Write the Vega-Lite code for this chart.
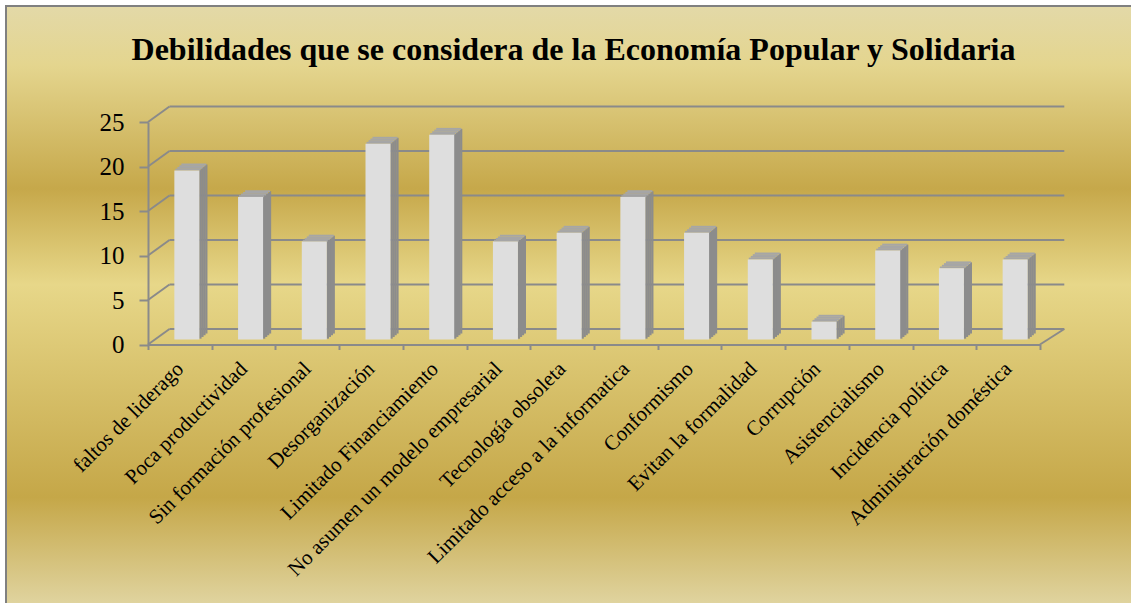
{
  "$schema": "https://vega.github.io/schema/vega-lite/v6.json",
  "width": 1127,
  "height": 599,
  "autosize": "none",
  "padding": {"left": 6, "top": 6, "right": 0, "bottom": 0},
  "background": "white",
  "title": {
    "text": "Debilidades que se considera de la Economía Popular y Solidaria",
    "font": "Liberation Serif",
    "fontSize": 32,
    "fontWeight": "bold",
    "color": "black",
    "anchor": "middle",
    "frame": "group",
    "baseline": "alphabetic",
    "offset": -86,
    "dx": 4
  },
  "config": {
    "view": {
      "fill": {
        "gradient": "linear",
        "x1": 0, "y1": 0, "x2": 0, "y2": 1,
        "stops": [
          {"offset": 0, "color": "#e3d9a8"},
          {"offset": 0.1, "color": "#e4d58e"},
          {"offset": 0.305, "color": "#c6a84a"},
          {"offset": 0.465, "color": "#e7d789"},
          {"offset": 0.82, "color": "#c5a748"},
          {"offset": 1, "color": "#e0d4a0"}
        ]
      },
      "stroke": "#808080",
      "strokeWidth": 2
    },
    "axis": {
      "domainColor": "#8a8a8a",
      "domainWidth": 2,
      "tickColor": "#8a8a8a",
      "tickWidth": 2,
      "labelFont": "Liberation Serif",
      "labelColor": "black",
      "grid": false
    }
  },
  "datasets": {
    "bars": [
      {"categoria": "faltos de liderago", "valor": 19},
      {"categoria": "Poca productividad", "valor": 16},
      {"categoria": "Sin formación profesional", "valor": 11},
      {"categoria": "Desorganización", "valor": 22},
      {"categoria": "Limitado Financiamiento", "valor": 23},
      {"categoria": "No asumen un modelo empresarial", "valor": 11},
      {"categoria": "Tecnología obsoleta", "valor": 12},
      {"categoria": "Limitado acceso a la informatica", "valor": 16},
      {"categoria": "Conformismo", "valor": 12},
      {"categoria": "Evitan la formalidad", "valor": 9},
      {"categoria": "Corrupción", "valor": 2},
      {"categoria": "Asistencialismo", "valor": 10},
      {"categoria": "Incidencia política", "valor": 8},
      {"categoria": "Administración doméstica", "valor": 9}
    ],
    "grid": [{"v": 0}, {"v": 5}, {"v": 10}, {"v": 15}, {"v": 20}, {"v": 25}]
  },
  "layer": [
    {
      "data": {"name": "grid"},
      "mark": {"type": "rule", "color": "#8a8a8a", "strokeWidth": 2, "xOffset": -10.36, "x2Offset": 56.16, "yOffset": -15.5},
      "encoding": {
        "x": {"datum": "faltos de liderago", "type": "nominal"},
        "x2": {"datum": "Administración doméstica"},
        "y": {"field": "v", "type": "quantitative"}
      }
    },
    {
      "data": {"name": "grid"},
      "mark": {"type": "rule", "color": "#8a8a8a", "strokeWidth": 2, "xOffset": -31.86, "x2Offset": -10.36, "y2Offset": -15.5},
      "encoding": {
        "x": {"datum": "faltos de liderago", "type": "nominal"},
        "x2": {"datum": "faltos de liderago"},
        "y": {"field": "v", "type": "quantitative"},
        "y2": {"field": "v"}
      }
    },
    {
      "data": {"name": "grid"},
      "transform": [{"filter": "datum.v == 0"}],
      "mark": {"type": "rule", "color": "#8a8a8a", "strokeWidth": 2, "xOffset": 31.86, "x2Offset": 56.16, "y2Offset": -15.5},
      "encoding": {
        "x": {"datum": "Administración doméstica", "type": "nominal"},
        "x2": {"datum": "Administración doméstica"},
        "y": {"field": "v", "type": "quantitative"},
        "y2": {"field": "v"}
      }
    },
    {"data": {"name": "bars"}, "mark": {"type": "bar", "color": "#8c8c8c", "size": 2.4, "xOffset": 20.5, "yOffset": -5.85, "y2Offset": -5.85},
      "encoding": {"x": {"field": "categoria", "type": "nominal"}, "y": {"field": "valor", "type": "quantitative"}}},
    {"data": {"name": "bars"}, "mark": {"type": "bar", "color": "#8c8c8c", "size": 2.4, "xOffset": 22.5, "yOffset": -7.55, "y2Offset": -7.55},
      "encoding": {"x": {"field": "categoria", "type": "nominal"}, "y": {"field": "valor", "type": "quantitative"}}},
    {"data": {"name": "bars"}, "mark": {"type": "bar", "color": "#8c8c8c", "size": 2.4, "xOffset": 24.5, "yOffset": -9.25, "y2Offset": -9.25},
      "encoding": {"x": {"field": "categoria", "type": "nominal"}, "y": {"field": "valor", "type": "quantitative"}}},
    {"data": {"name": "bars"}, "mark": {"type": "bar", "color": "#8c8c8c", "size": 2.2, "xOffset": 26.5, "yOffset": -10.95, "y2Offset": -10.95},
      "encoding": {"x": {"field": "categoria", "type": "nominal"}, "y": {"field": "valor", "type": "quantitative"}}},
    {"data": {"name": "bars"}, "mark": {"type": "tick", "color": "#a6a6a6", "size": 25, "thickness": 1.9, "opacity": 1, "xOffset": 8, "yOffset": -5.85},
      "encoding": {"x": {"field": "categoria", "type": "nominal"}, "y": {"field": "valor", "type": "quantitative"}}},
    {"data": {"name": "bars"}, "mark": {"type": "tick", "color": "#a6a6a6", "size": 25, "thickness": 1.9, "opacity": 1, "xOffset": 10, "yOffset": -7.55},
      "encoding": {"x": {"field": "categoria", "type": "nominal"}, "y": {"field": "valor", "type": "quantitative"}}},
    {"data": {"name": "bars"}, "mark": {"type": "tick", "color": "#a6a6a6", "size": 25, "thickness": 1.9, "opacity": 1, "xOffset": 12, "yOffset": -9.25},
      "encoding": {"x": {"field": "categoria", "type": "nominal"}, "y": {"field": "valor", "type": "quantitative"}}},
    {"data": {"name": "bars"}, "mark": {"type": "tick", "color": "#a6a6a6", "size": 25, "thickness": 1.9, "opacity": 1, "xOffset": 14, "yOffset": -10.95},
      "encoding": {"x": {"field": "categoria", "type": "nominal"}, "y": {"field": "valor", "type": "quantitative"}}},
    {
      "data": {"name": "bars"},
      "mark": {"type": "bar", "color": "#dedede", "size": 25, "xOffset": 7, "yOffset": -5, "y2Offset": -5},
      "encoding": {
        "x": {"field": "categoria", "type": "nominal",
          "scale": {"domain": ["faltos de liderago", "Poca productividad", "Sin formación profesional", "Desorganización", "Limitado Financiamiento", "No asumen un modelo empresarial", "Tecnología obsoleta", "Limitado acceso a la informatica", "Conformismo", "Evitan la formalidad", "Corrupción", "Asistencialismo", "Incidencia política", "Administración doméstica"], "range": [142, 1034], "paddingInner": 0, "paddingOuter": 0},
          "axis": {"orient": "bottom", "title": null, "offset": -260.5, "tickBand": "extent", "tickSize": 5, "labelAngle": -45, "labelAlign": "right", "labelBaseline": "middle", "labelFontSize": 21, "labelPadding": 16, "labelLimit": 400, "labelOverlap": false}},
        "y": {"field": "valor", "type": "quantitative",
          "scale": {"domain": [0, 25], "range": [338.5, 116], "nice": false},
          "axis": {"orient": "left", "title": null, "offset": -142, "values": [0, 5, 10, 15, 20, 25], "tickSize": 9, "labelFontSize": 25, "labelPadding": 15, "labelBaseline": "middle"}}
      }
    }
  ]
}
